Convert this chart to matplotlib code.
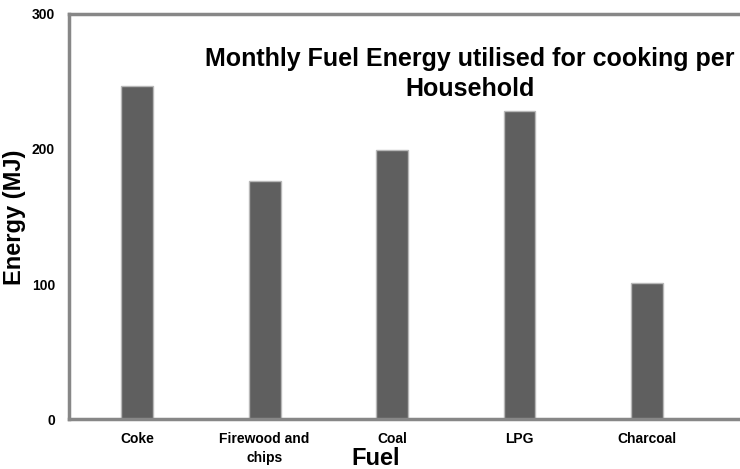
import matplotlib.pyplot as plt

fuels = ["Coke", "Firewood and\nchips", "Coal", "LPG", "Charcoal"]
energy = [246.5, 176.5, 199.5, 228.5, 100.5]
yticks = [0, 100, 200, 300]

plt.rcParams['font.family'] = ['Liberation Sans', 'DejaVu Sans']

fig = plt.figure(figsize=(7.4, 4.69), dpi=100)
ax = fig.add_axes([69 / 740, 1 - 419 / 469, 1 - 69 / 740, (419 - 14) / 469])

x = list(range(len(fuels)))
ax.bar(x, energy, width=0.25, color='#5f5f5f', edgecolor='#b8b8b8', linewidth=1)

ax.set_xlim(-0.535, 4.73)
ax.set_ylim(0, 300)
ax.set_yticks(yticks)
ax.set_yticklabels([str(v) for v in yticks], fontweight='bold', fontsize=10)
ax.set_xticks(x)
ax.set_xticklabels(fuels, fontweight='bold', fontsize=10, linespacing=1.5)
ax.tick_params(length=0, pad=10)
ax.tick_params(axis='x', pad=9)

for side in ['left', 'bottom', 'top']:
    ax.spines[side].set_color('#878787')
    ax.spines[side].set_linewidth(2.5)
ax.spines['right'].set_visible(False)

fig.text(15 / 740, 1 - 217 / 469, "Energy (MJ)", fontweight='bold', fontsize=17,
         rotation=90, ha='center', va='center')
fig.text(376 / 740, 1 - 458 / 469, "Fuel", fontweight='bold', fontsize=17,
         ha='center', va='center')
fig.text(470 / 740, 1 - 74 / 469, "Monthly Fuel Energy utilised for cooking per\nHousehold",
         ha='center', va='center', fontweight='bold', fontsize=18, linespacing=1.3)

fig.savefig("out.png", dpi=100)
